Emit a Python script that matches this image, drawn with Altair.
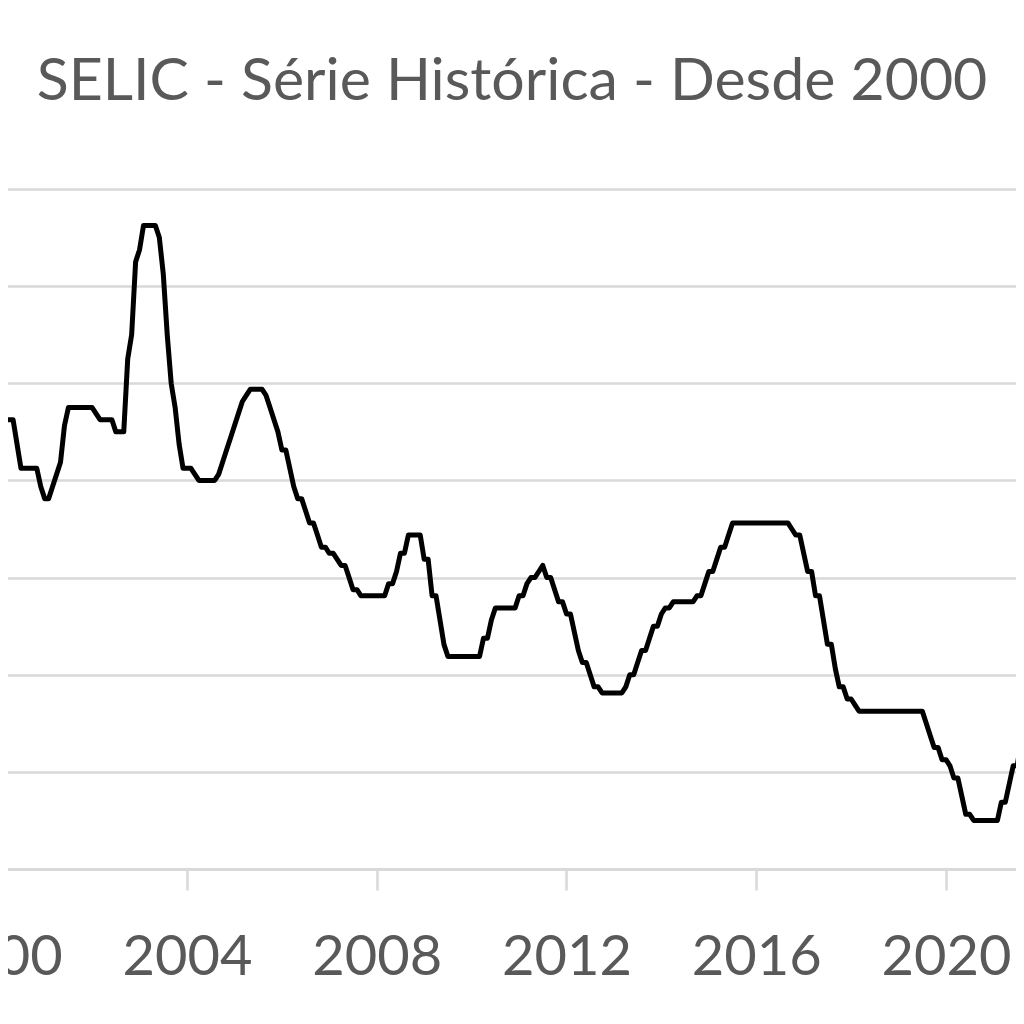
import altair as alt
import pandas as pd

# Monthly SELIC target (% a.a.), end-of-month values, Jan 2000 .. Dec 2021
selic_2000 = [19.00, 19.00, 18.50, 18.50, 18.50, 17.50, 16.50, 16.50, 16.50, 16.50, 16.50, 15.75]
selic_2001 = [15.25, 15.25, 15.75, 16.25, 16.75, 18.25, 19.00, 19.00, 19.00, 19.00, 19.00, 19.00]
selic_2002 = [19.00, 18.75, 18.50, 18.50, 18.50, 18.50, 18.00, 18.00, 18.00, 21.00, 22.00, 25.00]
selic_2003 = [25.50, 26.50, 26.50, 26.50, 26.50, 26.00, 24.50, 22.00, 20.00, 19.00, 17.50, 16.50]
selic_2004 = [16.50, 16.50, 16.25, 16.00, 16.00, 16.00, 16.00, 16.00, 16.25, 16.75, 17.25, 17.75]
selic_2005 = [18.25, 18.75, 19.25, 19.50, 19.75, 19.75, 19.75, 19.75, 19.50, 19.00, 18.50, 18.00]
selic_2006 = [17.25, 17.25, 16.50, 15.75, 15.25, 15.25, 14.75, 14.25, 14.25, 13.75, 13.25, 13.25]
selic_2007 = [13.00, 13.00, 12.75, 12.50, 12.50, 12.00, 11.50, 11.50, 11.25, 11.25, 11.25, 11.25]
selic_2008 = [11.25, 11.25, 11.25, 11.75, 11.75, 12.25, 13.00, 13.00, 13.75, 13.75, 13.75, 13.75]
selic_2009 = [12.75, 12.75, 11.25, 11.25, 10.25, 9.25, 8.75, 8.75, 8.75, 8.75, 8.75, 8.75]
selic_2010 = [8.75, 8.75, 8.75, 9.50, 9.50, 10.25, 10.75, 10.75, 10.75, 10.75, 10.75, 10.75]
selic_2011 = [11.25, 11.25, 11.75, 12.00, 12.00, 12.25, 12.50, 12.00, 12.00, 11.50, 11.00, 11.00]
selic_2012 = [10.50, 10.50, 9.75, 9.00, 8.50, 8.50, 8.00, 7.50, 7.50, 7.25, 7.25, 7.25]
selic_2013 = [7.25, 7.25, 7.25, 7.50, 8.00, 8.00, 8.50, 9.00, 9.00, 9.50, 10.00, 10.00]
selic_2014 = [10.50, 10.75, 10.75, 11.00, 11.00, 11.00, 11.00, 11.00, 11.00, 11.25, 11.25, 11.75]
selic_2015 = [12.25, 12.25, 12.75, 13.25, 13.25, 13.75, 14.25, 14.25, 14.25, 14.25, 14.25, 14.25]
selic_2016 = [14.25, 14.25, 14.25, 14.25, 14.25, 14.25, 14.25, 14.25, 14.25, 14.00, 13.75, 13.75]
selic_2017 = [13.00, 12.25, 12.25, 11.25, 11.25, 10.25, 9.25, 9.25, 8.25, 7.50, 7.50, 7.00]
selic_2018 = [7.00, 6.75, 6.50, 6.50, 6.50, 6.50, 6.50, 6.50, 6.50, 6.50, 6.50, 6.50]
selic_2019 = [6.50, 6.50, 6.50, 6.50, 6.50, 6.50, 6.50, 6.00, 5.50, 5.00, 5.00, 4.50]
selic_2020 = [4.50, 4.25, 3.75, 3.75, 3.00, 2.25, 2.25, 2.00, 2.00, 2.00, 2.00, 2.00]
selic_2021 = [2.00, 2.00, 2.75, 2.75, 3.50, 4.25, 4.25, 5.25, 6.25, 7.75, 7.75, 9.25]

years = list(range(2000, 2022))
series = [selic_2000, selic_2001, selic_2002, selic_2003, selic_2004, selic_2005,
          selic_2006, selic_2007, selic_2008, selic_2009, selic_2010, selic_2011,
          selic_2012, selic_2013, selic_2014, selic_2015, selic_2016, selic_2017,
          selic_2018, selic_2019, selic_2020, selic_2021]

tick_years = [2000, 2004, 2008, 2012, 2016, 2020]
grid_values = [4, 8, 12, 16, 20, 24, 28]
title_text = "SELIC - Série Histórica - Desde 2000"

rows = []
for y, vals in zip(years, series):
    for m, v in enumerate(vals):
        rows.append({"t": y + m / 12.0, "selic": v})
df = pd.DataFrame(rows)

W, H = 1008, 680
PX_PER_YEAR = 47.4375
X0 = 179.0  # svg x of 2004
d0, d1 = 1999.0, 2023.0
r0 = X0 + (d0 - 2004) * PX_PER_YEAR
r1 = X0 + (d1 - 2004) * PX_PER_YEAR

gray = "#595959"
grid = "#d9d9d9"

chart = alt.Chart(df).mark_line(color="black", strokeWidth=5, strokeJoin="round", clip=True).encode(
    x=alt.X("t:Q",
            scale=alt.Scale(domain=[d0, d1], range=[r0, r1], nice=False, zero=False),
            axis=alt.Axis(values=tick_years, format="d", title=None, grid=False,
                          labelFlush=False, labelFont="Lato", labelFontSize=56,
                          labelColor=gray, labelPadding=40,
                          tickColor=grid, tickSize=21, tickWidth=2.5,
                          domainColor=grid, domainWidth=3)),
    y=alt.Y("selic:Q",
            scale=alt.Scale(domain=[0, 28], nice=False, zero=True),
            axis=alt.Axis(values=grid_values, grid=True, gridColor=grid, gridWidth=2.5,
                          labels=False, ticks=False, domain=False, title=None)),
).properties(
    width=W, height=H,
    title=alt.TitleParams(text=title_text, font="Lato", fontSize=59, fontWeight="normal",
                          color=gray, anchor="middle", offset=77),
    autosize=alt.AutoSizeParams(type="none"),
    padding={"left": 0, "top": 181, "right": 0, "bottom": 120},
).configure_view(strokeWidth=0)

chart.save("out.html", embed_options={"renderer": "svg", "actions": False})
